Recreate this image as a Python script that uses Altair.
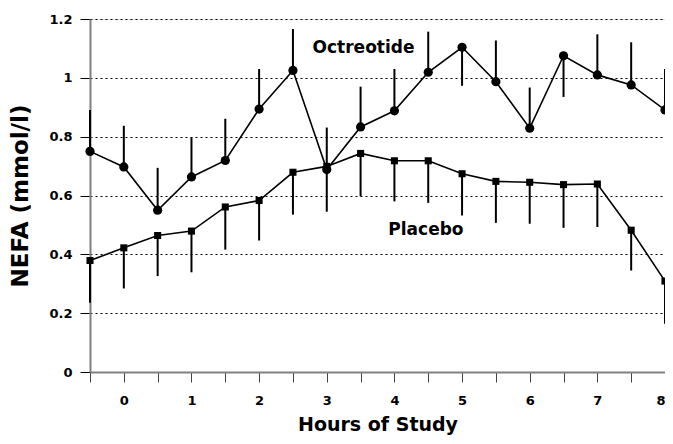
import altair as alt
import pandas as pd

hours = [-0.5, 0, 0.5, 1, 1.5, 2, 2.5, 3, 3.5, 4, 4.5, 5, 5.5, 6, 6.5, 7, 7.5, 8]
octreotide = [0.750, 0.697, 0.550, 0.663, 0.719, 0.894, 1.025, 0.688, 0.833, 0.888,
              1.019, 1.104, 0.987, 0.829, 1.075, 1.010, 0.976, 0.891]
octreotide_err_end = [0.891, 0.837, 0.694, 0.797, 0.861, 1.030, 1.166, 0.831, 0.970, 1.030,
                      1.157, 0.973, 1.127, 0.967, 0.935, 1.148, 1.121, 1.030]
placebo = [0.379, 0.422, 0.464, 0.479, 0.561, 0.583, 0.679, 0.699, 0.743, 0.718,
           0.718, 0.674, 0.648, 0.645, 0.637, 0.639, 0.482, 0.309]
placebo_err_end = [0.235, 0.284, 0.326, 0.339, 0.416, 0.447, 0.535, 0.545, 0.597, 0.580,
                   0.575, 0.532, 0.507, 0.504, 0.490, 0.493, 0.345, 0.164]

label_names = ["Octreotide", "Placebo"]
label_x = [2.79, 3.91]
label_y = [1.103, 0.482]

x_ticks = [v / 2 for v in range(-1, 17)]
y_ticks = [0, 0.2, 0.4, 0.6, 0.8, 1.0, 1.2]

FONT = "DejaVu Sans"

oct_df = pd.DataFrame({"hour": hours, "val": octreotide, "err": octreotide_err_end})
pla_df = pd.DataFrame({"hour": hours, "val": placebo, "err": placebo_err_end})
lab_df = pd.DataFrame({"hour": label_x, "val": label_y, "name": label_names})

x_scale = alt.Scale(domain=[-0.5, 8], nice=False, zero=False)
y_scale = alt.Scale(domain=[0, 1.2], nice=False)

x_enc = alt.X(
    "hour:Q",
    scale=x_scale,
    axis=alt.Axis(
        title="Hours of Study",
        values=x_ticks,
        labelExpr="floor(datum.value) == datum.value ? format(datum.value, 'd') : ''",
        labelOverlap=False,
        grid=False,
        domainColor="#808080",
        domainWidth=2,
        tickColor="#444444",
        tickSize=10,
        tickWidth=1,
        labelFont=FONT,
        labelFontWeight="bold",
        labelFontSize=13,
        labelColor="black",
        labelPadding=12,
        titleFont=FONT,
        titleFontWeight="bold",
        titleFontSize=19,
        titleColor="black",
        titlePadding=8,
    ),
)
y_enc = alt.Y(
    "val:Q",
    scale=y_scale,
    axis=alt.Axis(
        title="NEFA (mmol/l)",
        values=y_ticks,
        format="~g",
        labelOverlap=False,
        grid=True,
        gridColor="black",
        gridDash=[2, 3],
        gridWidth=1,
        gridOpacity=1,
        domainColor="#808080",
        domainWidth=2,
        tickColor="black",
        tickSize=10,
        tickWidth=1,
        labelFont=FONT,
        labelFontWeight="bold",
        labelFontSize=13,
        labelColor="black",
        labelPadding=8,
        titleFont=FONT,
        titleFontWeight="bold",
        titleFontSize=23,
        titleColor="black",
        titlePadding=16,
    ),
)

oct_err = alt.Chart(oct_df).mark_rule(color="black", strokeWidth=2).encode(
    x=x_enc, y=y_enc, y2="err:Q"
)
oct_line = alt.Chart(oct_df).mark_line(color="black", strokeWidth=1.6).encode(x=x_enc, y=y_enc)
oct_pts = alt.Chart(oct_df).mark_point(
    shape="circle", filled=True, color="black", size=85, opacity=1
).encode(x=x_enc, y=y_enc)

pla_err = alt.Chart(pla_df).mark_rule(color="black", strokeWidth=2).encode(
    x=x_enc, y=y_enc, y2="err:Q"
)
pla_line = alt.Chart(pla_df).mark_line(color="black", strokeWidth=1.6).encode(x=x_enc, y=y_enc)
pla_pts = alt.Chart(pla_df).mark_point(
    shape="square", filled=True, color="black", size=50, opacity=1
).encode(x=x_enc, y=y_enc)

labels = alt.Chart(lab_df).mark_text(
    align="left", baseline="middle", font=FONT, fontWeight="bold", fontSize=17, color="black"
).encode(
    x=x_enc,
    y=y_enc,
    text="name:N",
)

chart = alt.layer(
    oct_err, pla_err, oct_line, pla_line, oct_pts, pla_pts, labels
).properties(
    width=575,
    height=353,
    autosize=alt.AutoSizeParams(type="none"),
    padding={"left": 82, "top": 11, "right": 0, "bottom": 64},
).configure_view(stroke=None).configure(background="white")

chart.save("out.html", embed_options={"renderer": "svg", "actions": False})
